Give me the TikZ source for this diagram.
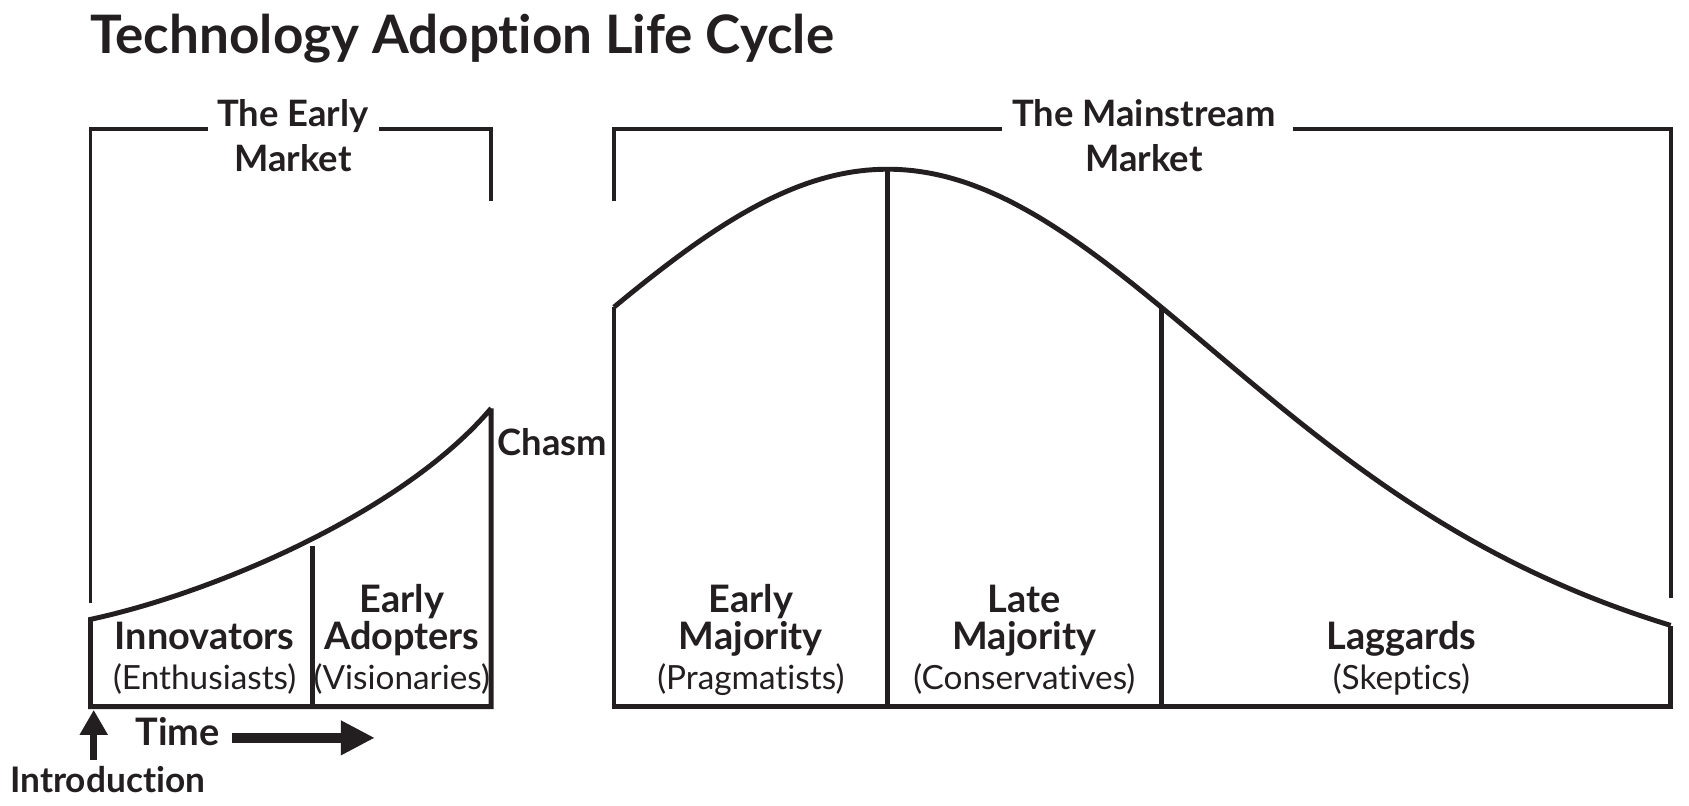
\documentclass[tikz,border=0pt]{standalone}
\usepackage{fontspec}
\setmainfont{Lato}[Ligatures=NoCommon]
\usetikzlibrary{arrows.meta}
\definecolor{tlInk}{HTML}{231F20}
\definecolor{tlPaper}{HTML}{FFFFFF}

\begin{document}
\begin{tikzpicture}[
    x=0.01cm, y=-0.01cm,
    title/.style={anchor=base west, inner sep=0pt, text=tlInk, font=\fontsize{14}{16}\selectfont\bfseries},
    market/.style={anchor=base, inner sep=0pt, text=tlInk, font=\fontsize{9.6}{11}\selectfont\bfseries},
    group/.style={anchor=base, inner sep=0pt, text=tlInk, font=\fontsize{10}{11}\selectfont\bfseries},
    trait/.style={anchor=base, inner sep=0pt, text=tlInk, font=\fontsize{8.8}{11}\selectfont},
    bracket/.style={draw=tlInk, line width=1pt},
    outline/.style={draw=tlInk, line width=1.3pt, line join=miter},
    bigarrow/.style={draw=tlInk, line width=2.8pt, -{Triangle[length=9pt, width=8.6pt]}},
    introarrow/.style={draw=tlInk, line width=1.8pt, -{Triangle[length=6.6pt, width=7pt]}}
]
    \useasboundingbox[fill=tlPaper] (0,0) rectangle (1568,748);

    % Title
    \node[title] (title) at (83,50) {Technology Adoption Life Cycle};

    % Market brackets
    \node[market] (earlyA) at (272,117) {The Early};
    \node[market] (earlyB) at (272,159) {Market};
    \node[market] (mainA) at (1062,117) {The Mainstream};
    \node[market] (mainB) at (1062,159) {Market};
    \draw[bracket] (84,560) -- (84,120) -- (193,120);
    \draw[bracket] (352,120) -- (456,120) -- (456,187);
    \draw[bracket] (570,187) -- (570,120) -- (930,120);
    \draw[bracket] (1200,120) -- (1551,120) -- (1551,555);

    % Early market curve
    \draw[outline] (456,379) -- (456,656) -- (84,656) -- (84,575)
        .. controls (200,550) and (375,475) .. (456,379);
    \draw[outline] (290,507) -- (290,656);

    % Mainstream bell curve
    \draw[outline] (570,285) -- (570,656) -- (1551,656) -- (1551,581);
    \draw[outline] plot[domain=570:1551, samples=160]
        (\x, {656-499/(cosh((\x-824)/455)*cosh((\x-824)/455))});
    \draw[outline] (824,157) -- (824,656);
    \draw[outline] (1078,285) -- (1078,656);

    \node[market] (chasm) at (513,423) {Chasm};

    % Groups
    \node[group] (innov) at (190,603) {Innovators};
    \node[trait] (enthus) at (190,640) {(Enthusiasts)};
    \node[group] (adoptA) at (373,569) {Early};
    \node[group] (adoptB) at (373,603) {Adopters};
    \node[trait] (vision) at (373,640) {(Visionaries)};
    \node[group] (earlyMajA) at (697,569) {Early};
    \node[group] (earlyMajB) at (697,603) {Majority};
    \node[trait] (pragma) at (697,640) {(Pragmatists)};
    \node[group] (lateMajA) at (951,569) {Late};
    \node[group] (lateMajB) at (951,603) {Majority};
    \node[trait] (conserv) at (951,640) {(Conservatives)};
    \node[group] (lagg) at (1301,603) {Laggards};
    \node[trait] (skept) at (1301,640) {(Skeptics)};

    % Time axis
    \node[group] (time) at (165,692) {Time};
    \node[group, font=\fontsize{9.3}{11}\selectfont\bfseries] (intro) at (100,736) {Introduction};
    \coordinate (timeStart) at (215,685);
    \coordinate (timeEnd) at (348,685);
    \coordinate (introStart) at (87,706);
    \coordinate (introEnd) at (87,659);
    \draw[bigarrow] (timeStart) -- (timeEnd);
    \draw[introarrow] (introStart) -- (introEnd);
\end{tikzpicture}
\end{document}
